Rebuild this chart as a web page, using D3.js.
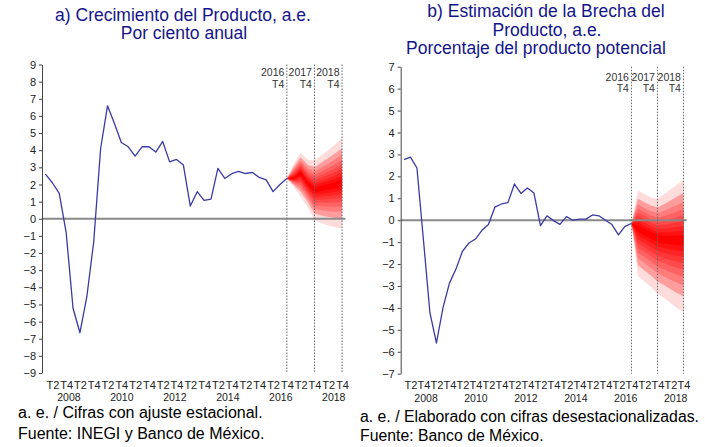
<!DOCTYPE html>
<html><head><meta charset="utf-8">
<script src="https://cdn.jsdelivr.net/npm/d3@7"></script>
<style>
body{margin:0;background:#fff}
svg{display:block}
text{font-family:"Liberation Sans",Arial,sans-serif}
</style>
</head><body>
<svg id="c" width="705" height="447"></svg>
<script>
// ---------- data ----------
const years = [2008,2009,2010,2011,2012,2013,2014,2015,2016,2017,2018];
const quarterNames = ["T1","T2","T3","T4"];
const quarters = years.flatMap(y => quarterNames.map(q => y + q));
const quarterTickNames = ["T2","T4"];
const yearLabels = ["2008","2010","2012","2014","2016","2018"];
const markerQuarters = ["2016T4","2017T4","2018T4"];
const markerLabels = [["2016","T4"],["2017","T4"],["2018","T4"]];

// a) GDP growth, 2008T1..2016T4
const growth = [2.6, 2.1, 1.48, -0.8, -5.22, -6.65, -4.55, -1.34, 4.1, 6.59, 5.56, 4.45,
  4.2, 3.66, 4.2, 4.2, 3.89, 4.51, 3.32, 3.46, 3.13, 0.74, 1.58, 1.07,
  1.15, 2.94, 2.35, 2.63, 2.76, 2.64, 2.7, 2.41, 2.27, 1.58, 2.0, 2.35];
// a) fan 2016T4..2018T4
const growthFanCenter = [2.35, 2.35, 2.65, 2.06, 1.67, 1.77, 1.87, 1.96, 2.1];
const growthFanUpper  = [2.35, 3.23, 3.85, 3.46, 3.38, 3.7, 4.0, 4.35, 4.69];
const growthFanLower  = [2.35, 1.87, 1.28, 0.7, -0.08, -0.25, -0.4, -0.5, -0.56];

// b) output gap, 2008T1..2016T4
const gap = [2.76, 2.88, 2.38, -0.9, -4.23, -5.6, -4.0, -2.87, -2.23, -1.42, -1.04, -0.86,
  -0.46, -0.2, 0.6, 0.74, 0.8, 1.65, 1.22, 1.47, 1.24, -0.25, 0.2, -0.02,
  -0.19, 0.16, 0.0, 0.05, 0.05, 0.24, 0.2, 0.0, -0.2, -0.67, -0.28, -0.15];
const gapFanCenter = [-0.15, -0.36, -0.51, -0.66, -0.81, -0.86, -0.89, -0.9, -0.9];
const gapFanUpper  = [-0.15, 1.36, 1.19, 1.04, 0.97, 1.17, 1.4, 1.62, 1.85];
const gapFanLower  = [-0.15, -2.53, -2.79, -3.05, -3.35, -3.55, -3.78, -4.0, -4.19];

// fan band levels (share of the outer band)
const fanLevels = [1.0, 0.78, 0.63, 0.512, 0.41, 0.319, 0.234, 0.154, 0.077];

const ticksA = d3.range(-9, 10);
const ticksB = d3.range(-7, 8);

const titleA = ["a) Crecimiento del Producto, a.e.", "Por ciento anual"];
const titleB = ["b) Estimación de la Brecha del", "Producto, a.e.", "Porcentaje del producto potencial"];
const notesA = ["a. e. / Cifras con ajuste estacional.", "Fuente: INEGI y Banco de México."];
const notesB = ["a. e. / Elaborado con cifras desestacionalizadas.", "Fuente: Banco de México."];

// ---------- drawing ----------
const svg = d3.select("#c");
const fanStart = quarters.indexOf("2016T4");
const fanQuarters = quarters.slice(fanStart, fanStart + 9);
const fanColor = d3.interpolateRgb("#ffdcdc", "#ff0000");

function panel(cfg) {
  const g = svg.append("g");
  const x = d3.scalePoint().domain(quarters).range([cfg.x0, cfg.x1]).padding(0.5);
  const y = d3.scaleLinear().domain(cfg.domain).range([cfg.yBottom, cfg.yTop]);

  // fan
  fanLevels.forEach((f, i) => {
    const area = d3.area()
      .x((d, j) => x(fanQuarters[j]))
      .y0((d, j) => y(cfg.fanC[j] - f * (cfg.fanC[j] - cfg.fanL[j])))
      .y1((d, j) => y(cfg.fanC[j] + f * (cfg.fanU[j] - cfg.fanC[j])));
    g.append("path").datum(fanQuarters).attr("d", area)
      .attr("fill", fanColor(Math.pow(i / (fanLevels.length - 1), 0.6)));
  });

  // zero line
  g.append("line").attr("x1", cfg.x0).attr("x2", cfg.x1)
    .attr("y1", y(0)).attr("y2", y(0))
    .attr("stroke", "#8a8a8a").attr("stroke-width", 2);

  // y axis
  const ya = g.append("g").attr("transform", `translate(${cfg.x0},0)`)
    .call(d3.axisLeft(y).tickValues(cfg.ticks).tickSize(3).tickSizeOuter(0).tickPadding(3));
  ya.select(".domain").attr("stroke", "#444");
  ya.selectAll(".tick line").attr("stroke", "#444");
  ya.selectAll("text").attr("font-size", 11).attr("fill", "#222")
    .style("font-family", '"Liberation Sans",Arial,sans-serif');

  // x quarter labels
  const xa = g.append("g").attr("transform", `translate(0,${cfg.xLabelY})`)
    .call(d3.axisBottom(x)
      .tickValues(quarters.filter(q => quarterTickNames.includes(q.slice(4))))
      .tickFormat(q => q.slice(4)).tickSize(0).tickPadding(0));
  xa.select(".domain").remove();
  xa.selectAll("text").attr("font-size", 11).attr("fill", "#222").attr("dy", null)
    .style("font-family", '"Liberation Sans",Arial,sans-serif');

  // year labels
  const yearPos = d3.scaleLinear().domain([0, yearLabels.length - 1]).range([3.4, 41.8]);
  const qStep = x.step();
  g.selectAll(".yr").data(yearLabels).join("text")
    .attr("x", (d, i) => cfg.x0 + (yearPos(i) + 0.5) * qStep)
    .attr("y", cfg.yearY).attr("text-anchor", "middle")
    .attr("font-size", 10.5).attr("fill", "#222").text(d => d);

  // vertical markers
  markerQuarters.forEach((q, i) => {
    g.append("line").attr("x1", x(q)).attr("x2", x(q))
      .attr("y1", cfg.yTop).attr("y2", cfg.yBottom)
      .attr("stroke", "#666").attr("stroke-width", 1).attr("stroke-dasharray", "1.5,1.5");
    markerLabels[i].forEach((t, k) => {
      g.append("text").attr("x", x(q) - 2.5).attr("y", cfg.markY[k])
        .attr("text-anchor", "end").attr("font-size", 10.5).attr("fill", "#333").text(t);
    });
  });

  // history line
  const line = d3.line().x((d, i) => x(quarters[i])).y(d => y(d));
  g.append("path").datum(cfg.series).attr("d", line)
    .attr("fill", "none").attr("stroke", "#3a3aa6").attr("stroke-width", 1.3)
    .attr("stroke-linejoin", "round");

  // title
  cfg.title.forEach((t, k) => {
    g.append("text").attr("x", cfg.titleX[k]).attr("y", cfg.titleY[k])
      .attr("text-anchor", "middle").attr("font-size", 17.5).attr("fill", "#14148a").text(t);
  });
  // notes
  cfg.notes.forEach((t, k) => {
    g.append("text").attr("x", cfg.noteX).attr("y", cfg.noteY[k])
      .attr("font-size", cfg.noteSize).attr("fill", "#000").text(t);
  });
}

panel({
  x0: 42, x1: 345.5, yTop: 64.5, yBottom: 373, domain: [-9, 9], ticks: ticksA,
  series: growth, fanC: growthFanCenter, fanU: growthFanUpper, fanL: growthFanLower,
  xLabelY: 389, yearY: 401, markY: [76, 88],
  title: titleA, titleX: [183, 184], titleY: [20.5, 39],
  notes: notesA, noteX: 18, noteY: [418, 439], noteSize: 16
});
panel({
  x0: 400.7, x1: 686.7, yTop: 66.7, yBottom: 373.7, domain: [-7, 7], ticks: ticksB,
  series: gap, fanC: gapFanCenter, fanU: gapFanUpper, fanL: gapFanLower,
  xLabelY: 389, yearY: 402, markY: [81, 92],
  title: titleB, titleX: [546, 547, 536], titleY: [17, 35.5, 54],
  notes: notesB, noteX: 360, noteY: [422, 441], noteSize: 15.8
});
</script>
</body></html>
